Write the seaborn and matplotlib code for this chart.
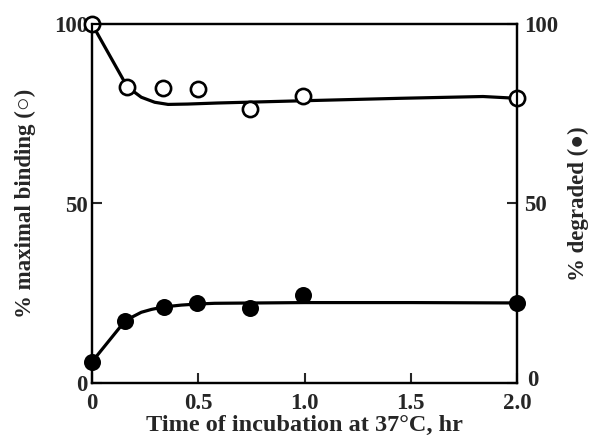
import matplotlib
matplotlib.use("Agg")
import matplotlib.pyplot as plt
import matplotlib.transforms as mtransforms
import seaborn as sns
import pandas as pd

# measured points
time_pts = [0.0, 0.166, 0.334, 0.499, 0.744, 0.995, 2.0]
binding_pts = [100.0, 82.5, 82.3, 81.9, 76.2, 80.0, 79.3]
time_pts_deg = [0.0, 0.157, 0.339, 0.496, 0.744, 0.995, 2.0]
degraded_pts = [5.9, 17.4, 21.3, 22.4, 20.8, 24.5, 22.2]

# hand-drawn fitted curves
curve_t_bind = [0.0, 0.166, 0.232, 0.295, 0.358, 0.45, 0.593, 0.979, 1.449, 1.84, 2.0]
curve_bind = [100.0, 82.5, 79.6, 78.2, 77.6, 77.7, 78.0, 78.6, 79.3, 79.8, 79.3]
curve_t_deg = [0.0, 0.157, 0.232, 0.28, 0.339, 0.42, 0.496, 0.577, 1.0, 1.5, 2.0]
curve_deg = [5.9, 17.4, 19.7, 20.5, 21.2, 21.7, 22.0, 22.2, 22.4, 22.4, 22.3]

xticks = [0, 0.5, 1.0, 1.5, 2.0]
xticklabels = ["0", "0.5", "1.0", "1.5", "2.0"]
yticks = [0, 50, 100]

sns.set_theme(style="ticks")
plt.rcParams["font.family"] = ["Liberation Serif", "DejaVu Serif"]
plt.rcParams["font.weight"] = "bold"

fig = plt.figure(figsize=(5.89, 4.40), dpi=100)
ax = fig.add_axes([92/589, 1-383/440, (517-92)/589, (383-24)/440])
ax2 = ax.twinx()

df_b = pd.DataFrame({"t": curve_t_bind, "v": curve_bind})
df_d = pd.DataFrame({"t": curve_t_deg, "v": curve_deg})
sns.lineplot(data=df_b, x="t", y="v", ax=ax, color="black", lw=2.3, clip_on=False)
sns.lineplot(data=df_d, x="t", y="v", ax=ax, color="black", lw=2.3, clip_on=False)

dfp = pd.DataFrame({"t": time_pts, "b": binding_pts})
dfq = pd.DataFrame({"t": time_pts_deg, "d": degraded_pts})
sns.scatterplot(data=dfp, x="t", y="b", ax=ax, s=120, facecolor="white",
                edgecolor="black", linewidth=1.9, clip_on=False, zorder=5)
sns.scatterplot(data=dfq, x="t", y="d", ax=ax, s=150, color="black",
                edgecolor="black", linewidth=0, clip_on=False, zorder=5)

for a in (ax, ax2):
    a.set_ylim(0, 100)
    a.set_xlim(0, 2.0)
    a.set_yticks(yticks)
    a.set_yticklabels([str(v) for v in yticks], fontsize=16.5, fontweight="bold")
    a.tick_params(axis="y", direction="in", length=7, width=1.5, pad=3)
    for s in a.spines.values():
        s.set_linewidth(1.6)
        s.set_color("black")
ax2.tick_params(axis="y", pad=5)

ax.set_xticks(xticks)
ax.set_xticklabels(xticklabels, fontsize=16.5, fontweight="bold")
ax.tick_params(axis="x", direction="in", length=7, width=1.5, pad=7)
ax.set_xlabel("Time of incubation at 37°C, hr", fontsize=17.5, fontweight="bold", labelpad=1)
lab_fam = ["Liberation Serif", "DejaVu Sans"]
ax.set_ylabel("% maximal binding (○)", fontsize=16.5, fontweight="bold", labelpad=13,
              family=lab_fam)
ax2.set_ylabel("% degraded (●)", fontsize=16.5, fontweight="bold", labelpad=7,
               family=lab_fam)

# nudge the right-hand "0" up and right, as in the original, so it clears "2.0"
lbl0 = ax2.get_yticklabels()[0]
lbl0.set_transform(lbl0.get_transform() +
                   mtransforms.ScaledTranslation(3/100, 5/100, fig.dpi_scale_trans))

fig.savefig("out.png", dpi=100)
